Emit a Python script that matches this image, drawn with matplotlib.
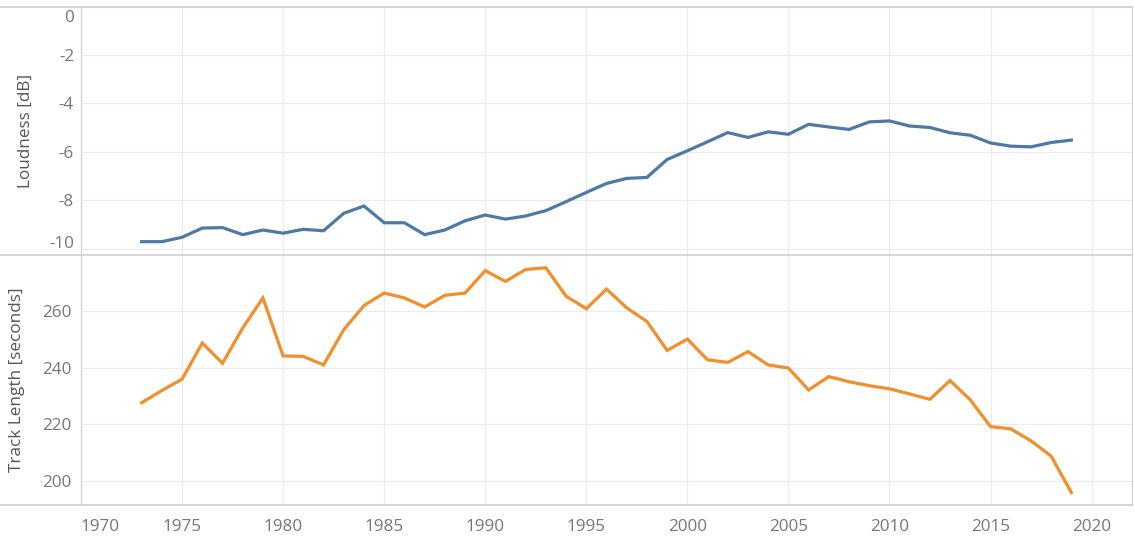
import numpy as np
import matplotlib
matplotlib.use("Agg")
import matplotlib.pyplot as plt
from matplotlib.lines import Line2D

## DATA
years = list(range(1973, 2020))

loudness = [-9.70, -9.70, -9.52, -9.14, -9.12, -9.41, -9.22, -9.35, -9.19, -9.25,
            -8.53, -8.23, -8.92, -8.92, -9.41, -9.22, -8.84, -8.60, -8.77, -8.64,
            -8.42, -8.05, -7.67, -7.30, -7.09, -7.05, -6.31, -5.95, -5.58, -5.20,
            -5.40, -5.17, -5.27, -4.86, -4.97, -5.07, -4.76, -4.72, -4.93, -4.99,
            -5.21, -5.31, -5.63, -5.76, -5.79, -5.61, -5.51]

track_length = [227.6, 231.9, 235.9, 248.6, 241.5, 253.9, 264.5, 244.1, 243.9, 240.9,
                253.3, 261.8, 266.2, 264.5, 261.3, 265.4, 266.2, 274.1, 270.3, 274.5,
                275.1, 265.1, 260.7, 267.6, 261.0, 256.2, 246.0, 250.0, 242.7, 241.8,
                245.6, 240.9, 239.8, 232.1, 236.8, 235.0, 233.6, 232.5, 230.7, 228.8,
                235.4, 228.6, 219.2, 218.4, 214.2, 208.8, 196.0]

loud_ticks = [0, -2, -4, -6, -8, -10]
len_ticks = [200, 220, 240, 260]
year_ticks = list(range(1970, 2021, 5))

#%%
plt.rcParams['font.family'] = ['Open Sans', 'DejaVu Sans']

W, H = 1134, 541
fig = plt.figure(figsize=(W / 100, H / 100), dpi=100)

left, right = 81 / W, 1132 / W
top1, bot1 = 1 - 6.5 / H, 1 - 255 / H
bot2 = 1 - 505 / H

ax1 = fig.add_axes([left, bot1, right - left, top1 - bot1])
ax2 = fig.add_axes([left, bot2, right - left, bot1 - bot2], sharex=ax1)

grid_c = '#ebebeb'
frame_c = '#cfcfcf'
tick_c = '#777777'
label_c = '#555555'
fs = 12.3

ax1.plot(years, loudness, color='#4e79a7', lw=2.3, solid_joinstyle='miter')
ax2.plot(years, track_length, color='#f28e2b', lw=2.3, solid_joinstyle='miter')

ax1.set_ylim(-10.25, 0)
ax2.set_ylim(191.6, 279.6)
ax1.set_xlim(1970, 2022)

ax1.set_yticks(loud_ticks)
ax2.set_yticks(len_ticks)
ax1.set_xticks(year_ticks)
ax2.set_xticks(year_ticks)

for ax in (ax1, ax2):
    ax.grid(True, color=grid_c, lw=0.8)
    ax.set_axisbelow(True)
    ax.tick_params(length=0, labelsize=fs, labelcolor=tick_c, pad=7)
    for s in ('top', 'bottom'):
        ax.spines[s].set_visible(False)
    ax.spines['left'].set_color(frame_c)
    ax.spines['right'].set_color(frame_c)

ax1.tick_params(labelbottom=False)
ax2.tick_params(axis='x', pad=10)

# tableau nudges the end labels inside the pane: draw the y labels of the top
# pane as annotations so the first and last can be shifted
ax1.set_yticklabels([])
shift = {0: -11, -10: 5}
for t in loud_ticks:
    ax1.annotate(str(t), xy=(0, t), xycoords=('axes fraction', 'data'),
                 xytext=(-7, shift.get(t, -2)), textcoords='offset pixels',
                 ha='right', va='center', fontsize=fs, color=tick_c)

fig.canvas.draw()
ax2.get_xticklabels()[0].set_ha('left')

ax1.set_ylabel('Loudness [dB]', fontsize=fs, color=label_c)
ax2.set_ylabel('Track Length [seconds]', fontsize=fs, color=label_c)
# label coords give the right edge of the rotated text
ax1.yaxis.set_label_coords((34 - 81) / (1132 - 81), 0.5)
ax2.yaxis.set_label_coords((25 - 81) / (1132 - 81), 0.5)

# full width header/footer rules like the tableau sheet
for yy in (top1, bot1, bot2):
    fig.add_artist(Line2D([0, right], [yy, yy], color=frame_c, lw=1.2,
                          transform=fig.transFigure))

fig.savefig('out.png', dpi=100, facecolor='white')
